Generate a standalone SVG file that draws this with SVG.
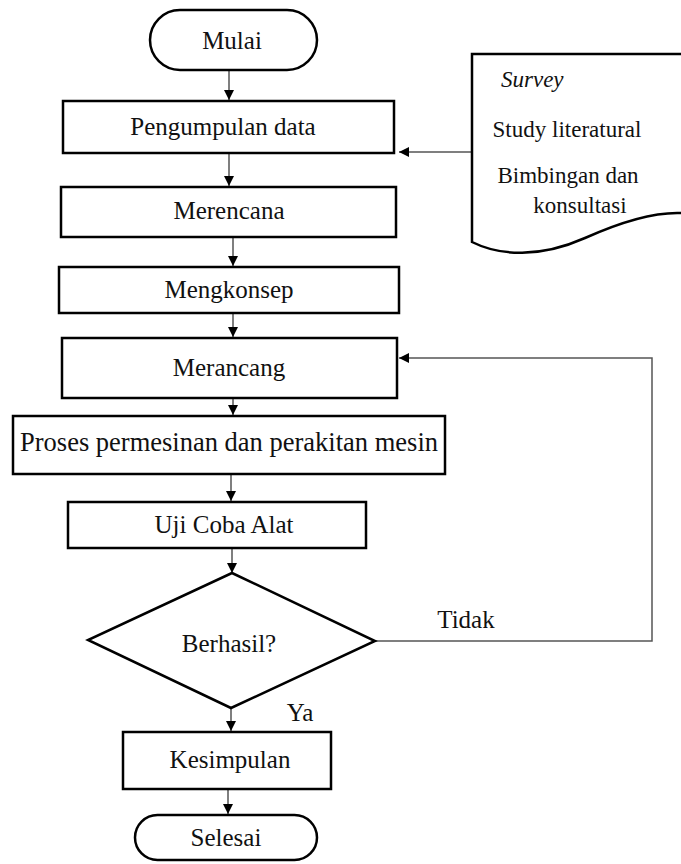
<svg xmlns="http://www.w3.org/2000/svg" width="681" height="864" viewBox="0 0 681 864">
<style>
.box{fill:#fff;stroke:#000;stroke-width:2.5}
.t{font-family:"Liberation Serif","Times New Roman","DejaVu Serif",serif;font-size:25px;fill:#111;text-anchor:middle}
.s{font-size:23px}
.c{fill:none;stroke:#555;stroke-width:1.5}
</style>
<defs>
<marker id="ah" markerUnits="userSpaceOnUse" markerWidth="10" markerHeight="10" refX="10" refY="5" orient="auto">
<path d="M0,0 L10,5 L0,10 Z" fill="#000"/>
</marker>
</defs>
<rect width="681" height="864" fill="#fff"/>
<g id="connectors">
<line class="c" x1="229" y1="70" x2="229" y2="100" marker-end="url(#ah)"/>
<line class="c" x1="229" y1="153" x2="229" y2="186" marker-end="url(#ah)"/>
<line class="c" x1="233" y1="237" x2="233" y2="266" marker-end="url(#ah)"/>
<line class="c" x1="233" y1="313" x2="233" y2="337" marker-end="url(#ah)"/>
<line class="c" x1="233" y1="398" x2="233" y2="415" marker-end="url(#ah)"/>
<line class="c" x1="231" y1="474" x2="231" y2="501" marker-end="url(#ah)"/>
<line class="c" x1="232" y1="548" x2="232" y2="573" marker-end="url(#ah)"/>
<line class="c" x1="231" y1="708" x2="231" y2="731" marker-end="url(#ah)"/>
<line class="c" x1="228" y1="789" x2="228" y2="814" marker-end="url(#ah)"/>
<line class="c" x1="472" y1="152" x2="399" y2="152" marker-end="url(#ah)"/>
<polyline class="c" points="375,641 652,641 652,358 399,358" marker-end="url(#ah)"/>
<text class="t" x="466" y="628">Tidak</text>
<text class="t" x="300" y="721">Ya</text>
</g>
<g id="mulai">
<rect class="box" x="150" y="10" width="167" height="60" rx="30"/>
<text class="t" x="232" y="49">Mulai</text>
</g>
<g id="pengumpulan">
<rect class="box" x="63" y="101" width="331" height="52"/>
<text class="t" x="223" y="135">Pengumpulan data</text>
</g>
<g id="merencana">
<rect class="box" x="61" y="187" width="335" height="50"/>
<text class="t" x="229" y="219">Merencana</text>
</g>
<g id="mengkonsep">
<rect class="box" x="59" y="267" width="340" height="46"/>
<text class="t" x="229" y="298">Mengkonsep</text>
</g>
<g id="merancang">
<rect class="box" x="62" y="338" width="335" height="60"/>
<text class="t" x="229" y="376">Merancang</text>
</g>
<g id="proses">
<rect class="box" x="13" y="416" width="432" height="58"/>
<text class="t" x="20" y="451" style="text-anchor:start;font-size:26.5px">Proses permesinan dan perakitan mesin</text>
</g>
<g id="uji">
<rect class="box" x="68" y="502" width="298" height="46"/>
<text class="t" x="224" y="533">Uji Coba Alat</text>
</g>
<g id="berhasil">
<polygon class="box" points="232,573 375,641 231,708 88,640"/>
<text class="t" x="229" y="652">Berhasil?</text>
</g>
<g id="kesimpulan">
<rect class="box" x="123" y="732" width="208" height="57"/>
<text class="t" x="230" y="768">Kesimpulan</text>
</g>
<g id="selesai">
<rect class="box" x="135" y="815" width="182" height="45" rx="22.5"/>
<text class="t" x="226" y="846">Selesai</text>
</g>
<g id="dokumen">
<path class="box" d="M681,54 H472 V242 C500,256 540,258 585,238 C625,220 655,212 681,213"/>
<text class="t s" x="501" y="87" style="text-anchor:start;font-style:italic">Survey</text>
<text class="t s" x="567" y="137">Study literatural</text>
<text class="t s" x="568" y="183">Bimbingan dan</text>
<text class="t s" x="580" y="213">konsultasi</text>
</g>
</svg>
